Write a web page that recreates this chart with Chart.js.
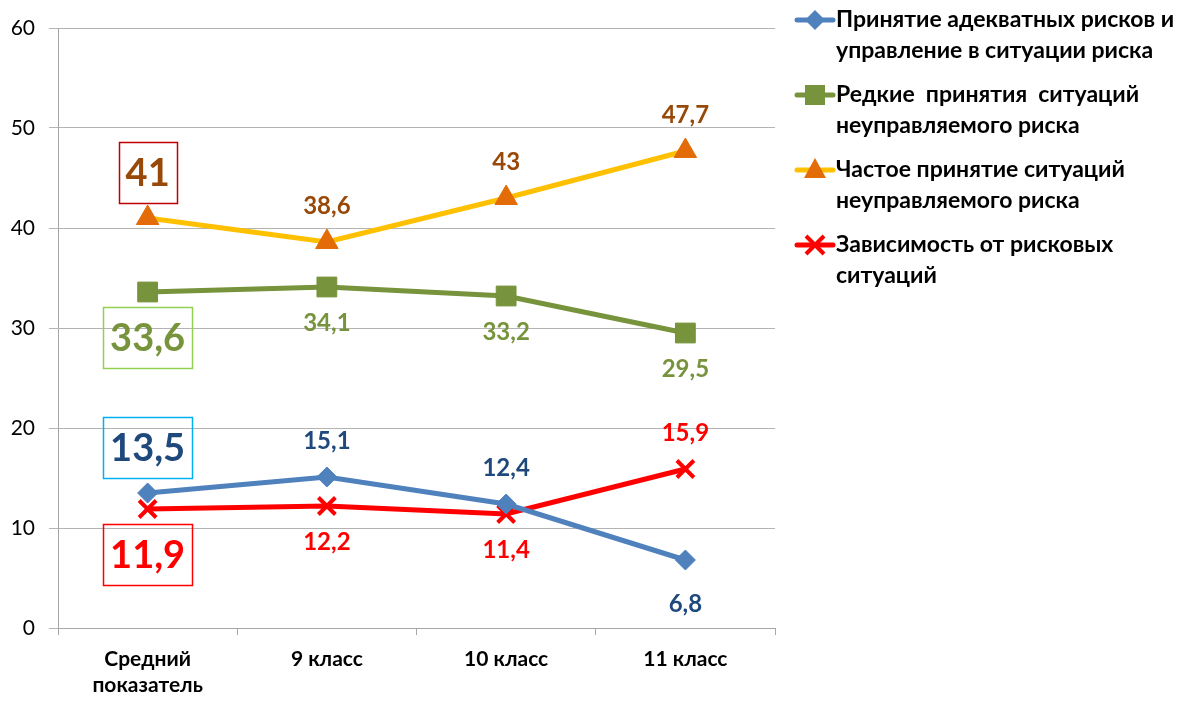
<!DOCTYPE html>
<html>
<head>
<meta charset="utf-8">
<script src="https://cdn.jsdelivr.net/npm/chart.js@4/dist/chart.umd.min.js"></script>
<style>
  body { margin: 0; background: #fff; }
  #wrap { width: 1185px; height: 706px; }
</style>
</head>
<body>
<div id="wrap"><canvas id="riskChart" width="1185" height="706"></canvas></div>
<script>
// categories and series
const categories = [['Средний', 'показатель'], '9 класс', '10 класс', '11 класс'];
const adequateRisk = [13.5, 15.1, 12.4, 6.8];
const rareUncontrolled = [33.6, 34.1, 33.2, 29.5];
const frequentUncontrolled = [41, 38.6, 43, 47.7];
const riskDependence = [11.9, 12.2, 11.4, 15.9];
const seriesNames = [
    ['Принятие адекватных рисков и', 'управление в ситуации риска'],
    ['Редкие  принятия  ситуаций', 'неуправляемого риска'],
    ['Частое принятие ситуаций', 'неуправляемого риска'],
    ['Зависимость от рисковых', 'ситуаций']
];
const yTicks = [0, 10, 20, 30, 40, 50, 60];

// label placement per point: 'up' or 'down' (first point is the big boxed one)
const labelSide = [
    ['up', 'up', 'up', 'down'],
    ['down', 'down', 'down', 'down'],
    ['up', 'up', 'up', 'up'],
    ['down', 'down', 'down', 'up']
];
const labelColors = ['#1F497D', '#77933C', '#984807', '#FF0000'];
const boxColors = ['#00B0F0', '#92D050', '#C00000', '#FF0000'];

const FONT = 'Lato, "Open Sans", sans-serif';

const styles = [
    { line: '#4F81BD', fill: '#4F81BD', point: 'rectRot', r: 10 },
    { line: '#77933C', fill: '#77933C', point: 'rect', r: 14 },
    { line: '#FFC000', fill: '#E36C09', point: 'triangle', r: 13 },
    { line: '#FF0000', fill: '#FF0000', point: 'crossRot', r: 12 }
];
const seriesData = [adequateRisk, rareUncontrolled, frequentUncontrolled, riskDependence];

const fmt = v => String(v).replace('.', ',');

// value labels next to the points
const valueLabels = {
    id: 'valueLabels',
    afterDatasetsDraw(chart) {
        const ctx = chart.ctx;
        ctx.save();
        ctx.textAlign = 'center';
        ctx.textBaseline = 'middle';
        chart.data.datasets.forEach((ds, i) => {
            const meta = chart.getDatasetMeta(i);
            meta.data.forEach((pt, j) => {
                const up = labelSide[i][j] === 'up';
                const txt = fmt(ds.data[j]);
                if (j === 0) {
                    ctx.font = 'bold 38px ' + FONT;
                    const y = pt.y + (up ? -46 : 45);
                    const w = Math.max(ctx.measureText(txt).width + 14, 54);
                    ctx.strokeStyle = boxColors[i];
                    ctx.lineWidth = 1.5;
                    ctx.strokeRect(Math.round(pt.x - w / 2) + 0.5, Math.round(y - 30) + 0.5, Math.round(w), 61);
                    ctx.fillStyle = labelColors[i];
                    ctx.fillText(txt, pt.x, y + 2);
                } else {
                    ctx.font = 'bold 24px ' + FONT;
                    let off = 36;
                    if (i === 0 && !up) off = 44;
                    ctx.fillStyle = labelColors[i];
                    ctx.fillText(txt, pt.x, pt.y + (up ? -off : off));
                }
            });
        });
        ctx.restore();
    }
};

// legend on the right
const sideLegend = {
    id: 'sideLegend',
    afterDraw(chart) {
        const ctx = chart.ctx;
        ctx.save();
        const x0 = 797, x1 = 833, tx = 836;
        seriesNames.forEach((lines, i) => {
            const y = 20 + i * 75;
            const s = styles[i];
            ctx.strokeStyle = s.line;
            ctx.lineWidth = 5;
            ctx.lineCap = 'round';
            ctx.beginPath();
            ctx.moveTo(x0, y);
            ctx.lineTo(x1, y);
            ctx.stroke();
            const cx = (x0 + x1) / 2;
            ctx.fillStyle = s.fill;
            ctx.beginPath();
            if (i === 0) {
                ctx.moveTo(cx, y - 10); ctx.lineTo(cx + 10, y); ctx.lineTo(cx, y + 10); ctx.lineTo(cx - 10, y);
                ctx.closePath(); ctx.fill();
            } else if (i === 1) {
                ctx.fillRect(cx - 10, y - 10, 20, 20);
            } else if (i === 2) {
                ctx.moveTo(cx, y - 12); ctx.lineTo(cx + 11, y + 8); ctx.lineTo(cx - 11, y + 8);
                ctx.closePath(); ctx.fill();
            } else {
                ctx.strokeStyle = s.fill;
                ctx.lineWidth = 4;
                ctx.lineCap = 'butt';
                ctx.moveTo(cx - 9, y - 9); ctx.lineTo(cx + 9, y + 9);
                ctx.moveTo(cx + 9, y - 9); ctx.lineTo(cx - 9, y + 9);
                ctx.stroke();
            }
            ctx.fillStyle = '#000';
            ctx.font = 'bold 23px ' + FONT;
            ctx.textAlign = 'left';
            ctx.textBaseline = 'middle';
            lines.forEach((t, k) => ctx.fillText(t, tx, y + k * 31));
        });
        ctx.restore();
    }
};

new Chart(document.getElementById('riskChart'), {
    type: 'line',
    data: {
        labels: categories,
        datasets: seriesData.map((d, i) => ({
            label: seriesNames[i].join(' '),
            data: d,
            borderColor: styles[i].line,
            borderWidth: 5,
            backgroundColor: styles[i].fill,
            pointStyle: styles[i].point,
            pointRadius: styles[i].r,
            pointBackgroundColor: styles[i].fill,
            pointBorderColor: styles[i].fill,
            pointBorderWidth: i === 3 ? 4 : 1,
            tension: 0
        }))
    },
    options: {
        responsive: false,
        animation: false,
        layout: { padding: { top: 28, right: 410, bottom: 0, left: 0 } },
        plugins: {
            legend: { display: false },
            tooltip: { enabled: false }
        },
        scales: {
            x: {
                offset: true,
                grid: { offset: true, drawOnChartArea: false, color: '#A6A6A6', tickLength: 7 },
                border: { color: '#A6A6A6' },
                ticks: {
                    color: '#000',
                    font: { family: FONT, size: 21, weight: 'bold' },
                    padding: 12,
                    maxRotation: 0
                },
                afterFit(scale) { scale.height = 78; }
            },
            y: {
                min: 0,
                max: 60,
                afterBuildTicks(scale) { scale.ticks = yTicks.map(v => ({ value: v })); },
                grid: { color: '#B3B3B3', tickLength: 9 },
                border: { color: '#A6A6A6' },
                ticks: {
                    color: '#000',
                    font: { family: FONT, size: 21 },
                    padding: 14
                },
                afterFit(scale) { scale.width = 58; }
            }
        }
    },
    plugins: [valueLabels, sideLegend]
});
</script>
</body>
</html>
